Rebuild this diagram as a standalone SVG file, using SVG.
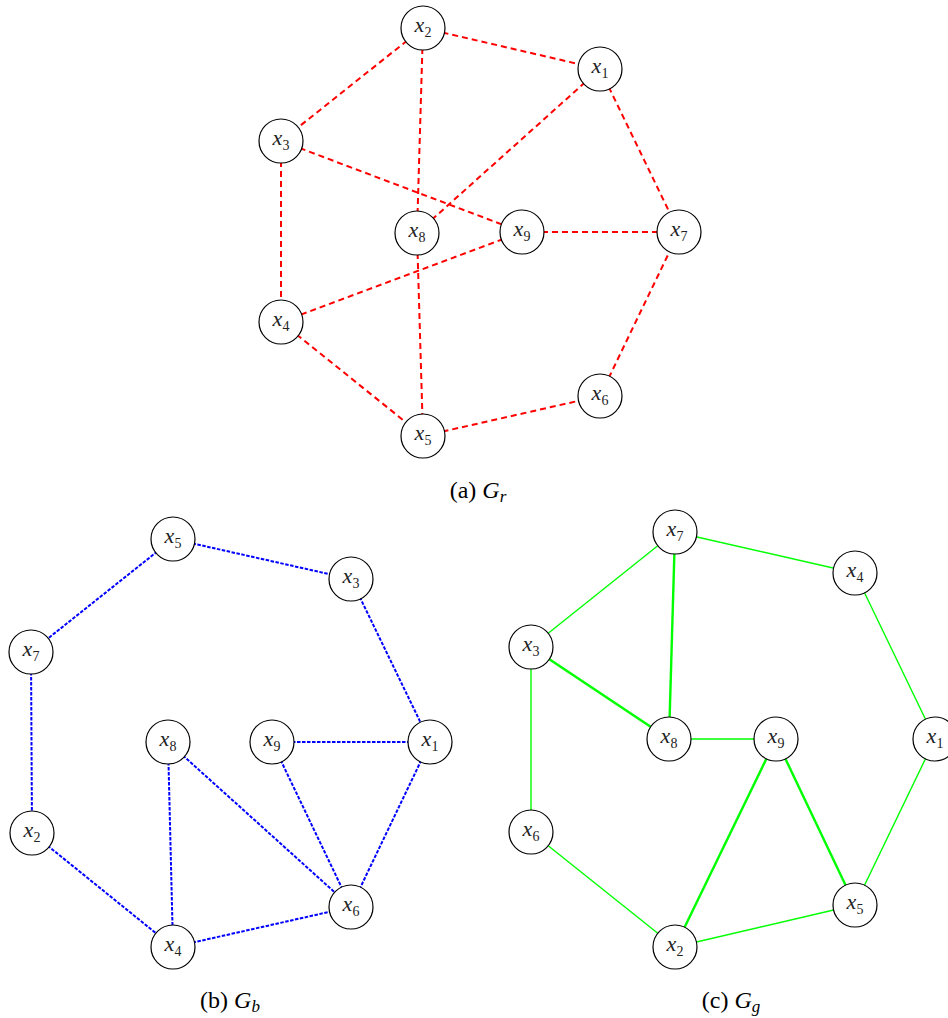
<svg xmlns="http://www.w3.org/2000/svg" width="948" height="1018" viewBox="0 0 948 1018">
<style>
.n{fill:#fff;stroke:#000;stroke-width:1.2}
.t{font-family:"Liberation Serif",serif;font-style:italic;font-size:22px;fill:#222}
.s{font-style:normal;font-size:14px}
.r{stroke:#f00;stroke-width:2;stroke-dasharray:6 4;fill:none}
.b{stroke:#00f;stroke-width:2;stroke-dasharray:3.5 1.5;fill:none}
.g{stroke:#0f0;stroke-width:1.4;fill:none}
.gt{stroke:#0f0;stroke-width:2.4;fill:none}
.c{font-family:"Liberation Serif",serif;font-size:24px;fill:#000}
.ci{font-style:italic}
</style>
<rect width="948" height="1018" fill="#fff"/>
<g id="edges">
<g id="edges-a">
<line class="r" x1="423" y1="28" x2="600" y2="69"/>
<line class="r" x1="423" y1="28" x2="281" y2="141"/>
<line class="r" x1="423" y1="28" x2="417" y2="233"/>
<line class="r" x1="600" y1="69" x2="417" y2="233"/>
<line class="r" x1="600" y1="69" x2="679" y2="232"/>
<line class="r" x1="281" y1="141" x2="522" y2="232"/>
<line class="r" x1="281" y1="141" x2="281" y2="322"/>
<line class="r" x1="522" y1="232" x2="679" y2="232"/>
<line class="r" x1="522" y1="232" x2="281" y2="322"/>
<line class="r" x1="417" y1="233" x2="423" y2="436"/>
<line class="r" x1="281" y1="322" x2="423" y2="436"/>
<line class="r" x1="423" y1="436" x2="600" y2="396"/>
<line class="r" x1="600" y1="396" x2="679" y2="232"/>
</g>
<g id="edges-b">
<line class="b" x1="173" y1="539" x2="351" y2="579"/>
<line class="b" x1="173" y1="539" x2="31" y2="652"/>
<line class="b" x1="351" y1="579" x2="430" y2="742"/>
<line class="b" x1="31" y1="652" x2="32" y2="833"/>
<line class="b" x1="272" y1="742" x2="430" y2="742"/>
<line class="b" x1="430" y1="742" x2="351" y2="907"/>
<line class="b" x1="272" y1="742" x2="351" y2="907"/>
<line class="b" x1="168" y1="742" x2="351" y2="907"/>
<line class="b" x1="168" y1="742" x2="173" y2="947"/>
<line class="b" x1="32" y1="833" x2="173" y2="947"/>
<line class="b" x1="173" y1="947" x2="351" y2="907"/>
</g>
<g id="edges-c">
<line class="g" x1="675" y1="532" x2="855" y2="573"/>
<line class="g" x1="675" y1="532" x2="531" y2="647"/>
<line class="gt" x1="675" y1="532" x2="669" y2="739"/>
<line class="gt" x1="531" y1="647" x2="669" y2="739"/>
<line class="g" x1="531" y1="647" x2="531" y2="832"/>
<line class="g" x1="669" y1="739" x2="776" y2="739"/>
<line class="g" x1="855" y1="573" x2="935" y2="739"/>
<line class="g" x1="935" y1="739" x2="855" y2="905"/>
<line class="gt" x1="776" y1="739" x2="675" y2="947"/>
<line class="gt" x1="776" y1="739" x2="855" y2="905"/>
<line class="g" x1="531" y1="832" x2="675" y2="947"/>
<line class="g" x1="675" y1="947" x2="855" y2="905"/>
</g>
</g>
<g id="a-x2"><circle class="n" cx="423" cy="28" r="22"/><text class="t" x="423" y="32" text-anchor="middle">x<tspan class="s" dy="5">2</tspan></text></g>
<g id="a-x1"><circle class="n" cx="600" cy="69" r="22"/><text class="t" x="600" y="73" text-anchor="middle">x<tspan class="s" dy="5">1</tspan></text></g>
<g id="a-x3"><circle class="n" cx="281" cy="141" r="22"/><text class="t" x="281" y="145" text-anchor="middle">x<tspan class="s" dy="5">3</tspan></text></g>
<g id="a-x8"><circle class="n" cx="417" cy="233" r="22"/><text class="t" x="417" y="237" text-anchor="middle">x<tspan class="s" dy="5">8</tspan></text></g>
<g id="a-x9"><circle class="n" cx="522" cy="232" r="22"/><text class="t" x="522" y="236" text-anchor="middle">x<tspan class="s" dy="5">9</tspan></text></g>
<g id="a-x7"><circle class="n" cx="679" cy="232" r="22"/><text class="t" x="679" y="236" text-anchor="middle">x<tspan class="s" dy="5">7</tspan></text></g>
<g id="a-x4"><circle class="n" cx="281" cy="322" r="22"/><text class="t" x="281" y="326" text-anchor="middle">x<tspan class="s" dy="5">4</tspan></text></g>
<g id="a-x6"><circle class="n" cx="600" cy="396" r="22"/><text class="t" x="600" y="400" text-anchor="middle">x<tspan class="s" dy="5">6</tspan></text></g>
<g id="a-x5"><circle class="n" cx="423" cy="436" r="22"/><text class="t" x="423" y="440" text-anchor="middle">x<tspan class="s" dy="5">5</tspan></text></g>
<g id="b-x5"><circle class="n" cx="173" cy="539" r="22"/><text class="t" x="173" y="543" text-anchor="middle">x<tspan class="s" dy="5">5</tspan></text></g>
<g id="b-x3"><circle class="n" cx="351" cy="579" r="22"/><text class="t" x="351" y="583" text-anchor="middle">x<tspan class="s" dy="5">3</tspan></text></g>
<g id="b-x7"><circle class="n" cx="31" cy="652" r="22"/><text class="t" x="31" y="656" text-anchor="middle">x<tspan class="s" dy="5">7</tspan></text></g>
<g id="b-x8"><circle class="n" cx="168" cy="742" r="22"/><text class="t" x="168" y="746" text-anchor="middle">x<tspan class="s" dy="5">8</tspan></text></g>
<g id="b-x9"><circle class="n" cx="272" cy="742" r="22"/><text class="t" x="272" y="746" text-anchor="middle">x<tspan class="s" dy="5">9</tspan></text></g>
<g id="b-x1"><circle class="n" cx="430" cy="742" r="22"/><text class="t" x="430" y="746" text-anchor="middle">x<tspan class="s" dy="5">1</tspan></text></g>
<g id="b-x2"><circle class="n" cx="32" cy="833" r="22"/><text class="t" x="32" y="837" text-anchor="middle">x<tspan class="s" dy="5">2</tspan></text></g>
<g id="b-x6"><circle class="n" cx="351" cy="907" r="22"/><text class="t" x="351" y="911" text-anchor="middle">x<tspan class="s" dy="5">6</tspan></text></g>
<g id="b-x4"><circle class="n" cx="173" cy="947" r="22"/><text class="t" x="173" y="951" text-anchor="middle">x<tspan class="s" dy="5">4</tspan></text></g>
<g id="c-x7"><circle class="n" cx="675" cy="532" r="22"/><text class="t" x="675" y="536" text-anchor="middle">x<tspan class="s" dy="5">7</tspan></text></g>
<g id="c-x4"><circle class="n" cx="855" cy="573" r="22"/><text class="t" x="855" y="577" text-anchor="middle">x<tspan class="s" dy="5">4</tspan></text></g>
<g id="c-x3"><circle class="n" cx="531" cy="647" r="22"/><text class="t" x="531" y="651" text-anchor="middle">x<tspan class="s" dy="5">3</tspan></text></g>
<g id="c-x8"><circle class="n" cx="669" cy="739" r="22"/><text class="t" x="669" y="743" text-anchor="middle">x<tspan class="s" dy="5">8</tspan></text></g>
<g id="c-x9"><circle class="n" cx="776" cy="739" r="22"/><text class="t" x="776" y="743" text-anchor="middle">x<tspan class="s" dy="5">9</tspan></text></g>
<g id="c-x1"><circle class="n" cx="935" cy="739" r="22"/><text class="t" x="935" y="743" text-anchor="middle">x<tspan class="s" dy="5">1</tspan></text></g>
<g id="c-x6"><circle class="n" cx="531" cy="832" r="22"/><text class="t" x="531" y="836" text-anchor="middle">x<tspan class="s" dy="5">6</tspan></text></g>
<g id="c-x2"><circle class="n" cx="675" cy="947" r="22"/><text class="t" x="675" y="951" text-anchor="middle">x<tspan class="s" dy="5">2</tspan></text></g>
<g id="c-x5"><circle class="n" cx="855" cy="905" r="22"/><text class="t" x="855" y="909" text-anchor="middle">x<tspan class="s" dy="5">5</tspan></text></g>
<g id="captions">
<text class="c" x="478" y="498" text-anchor="middle">(a) <tspan class="ci">G</tspan><tspan class="ci" font-size="17" dy="4">r</tspan></text>
<text class="c" x="230" y="1008" text-anchor="middle">(b) <tspan class="ci">G</tspan><tspan class="ci" font-size="17" dy="4">b</tspan></text>
<text class="c" x="731" y="1008" text-anchor="middle">(c) <tspan class="ci">G</tspan><tspan class="ci" font-size="17" dy="4">g</tspan></text>
</g>
</svg>
